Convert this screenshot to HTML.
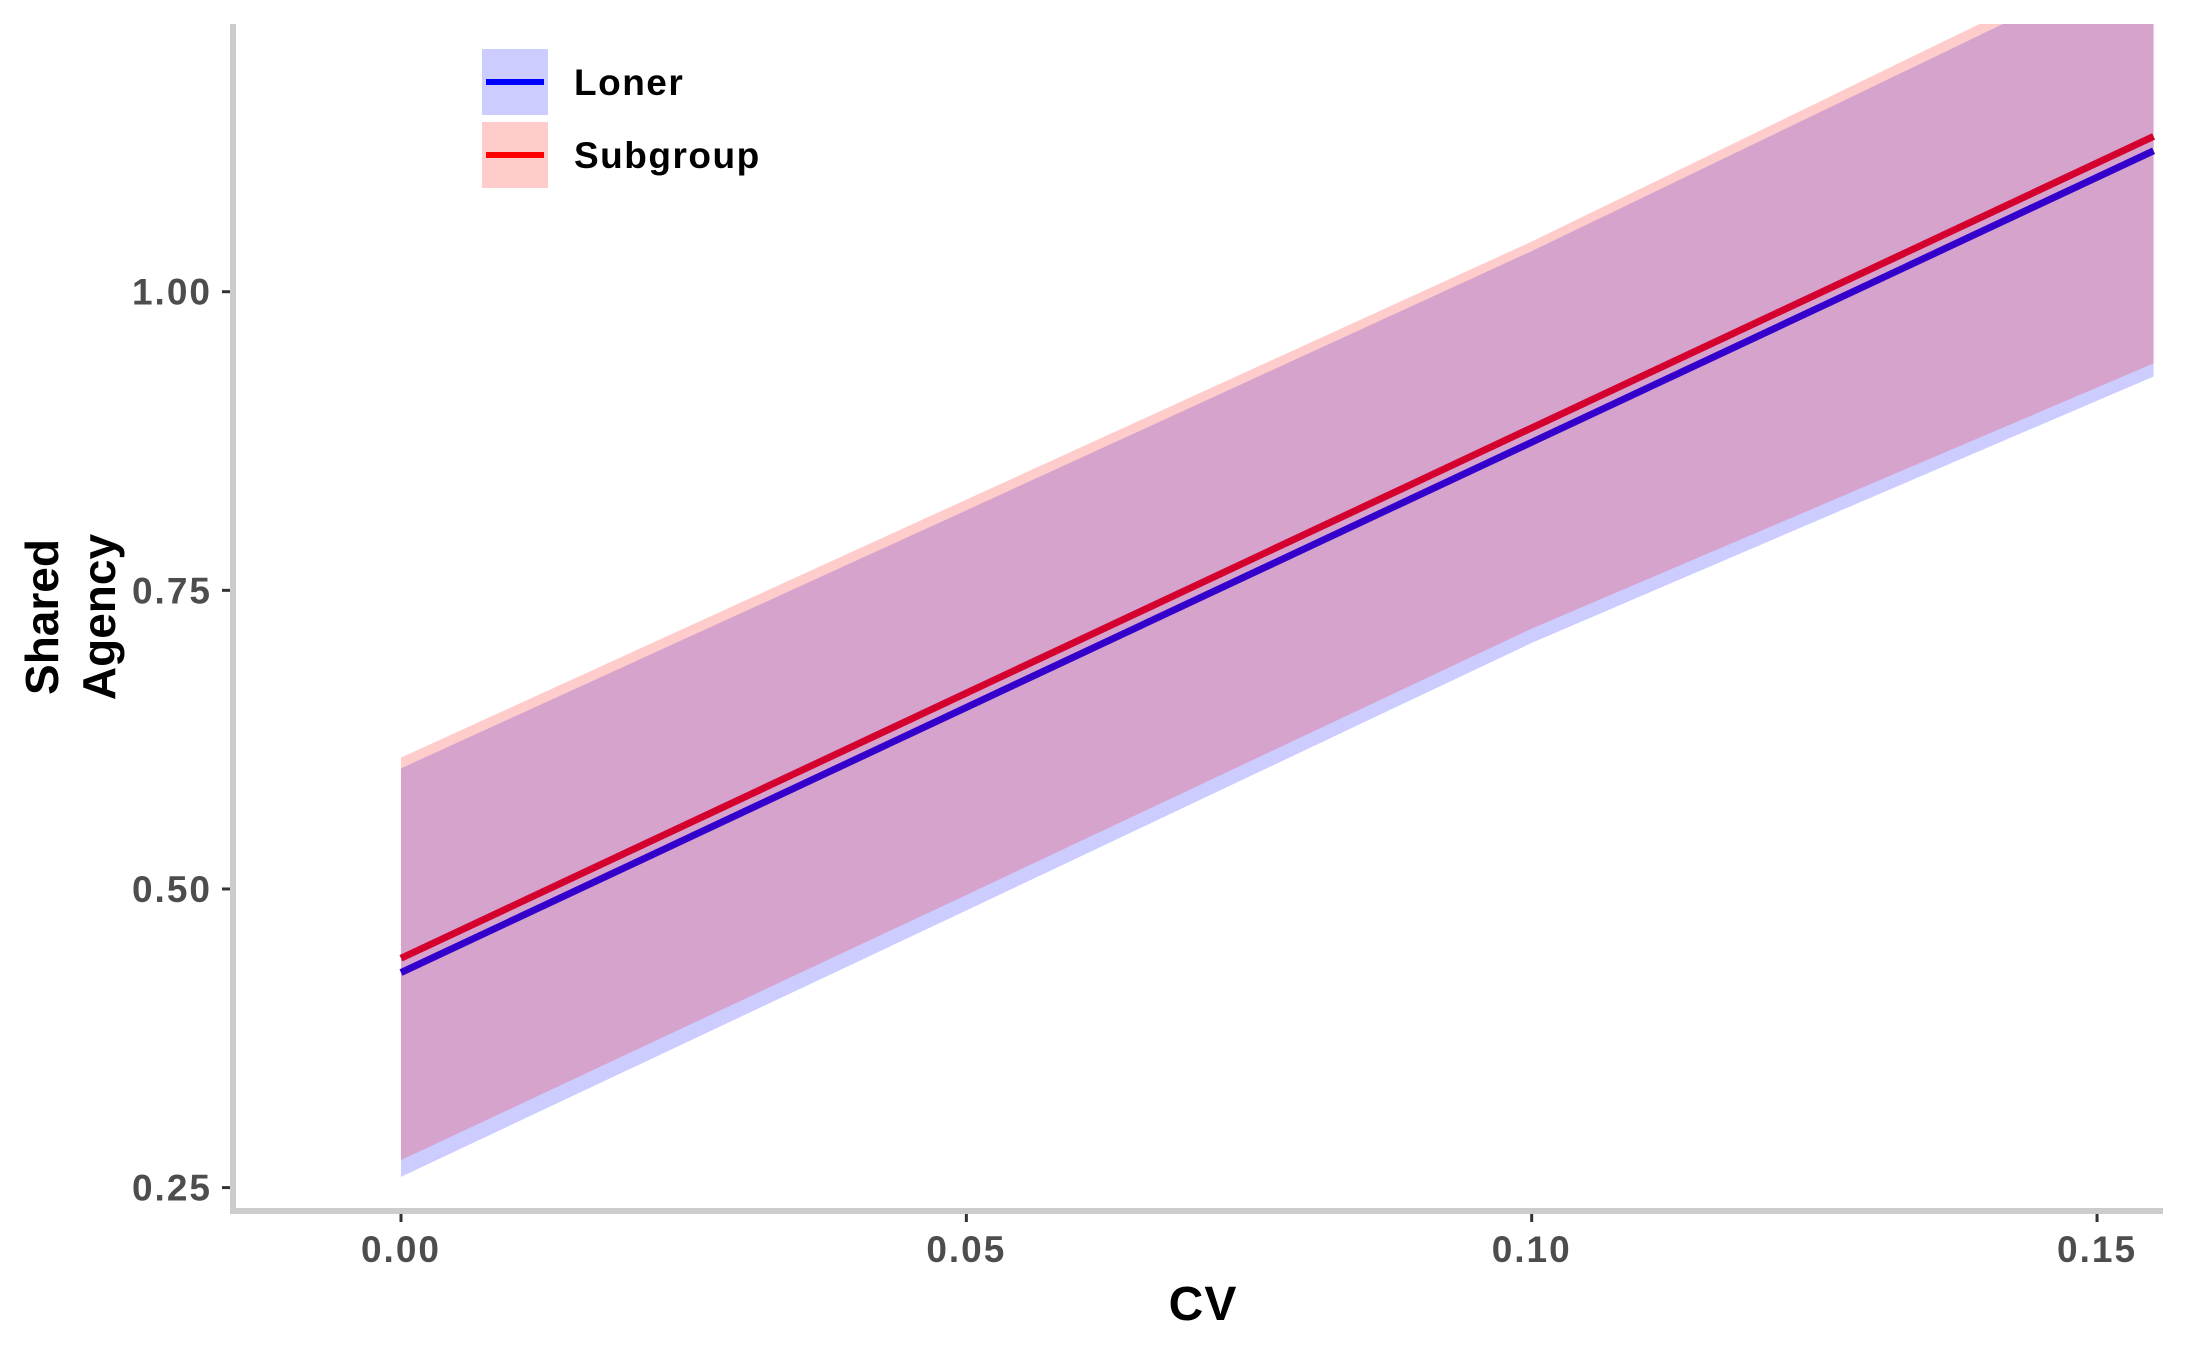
<!DOCTYPE html>
<html><head><meta charset="utf-8"><style>
html,body{margin:0;padding:0;background:#fff;}
svg{display:block;}
text{font-family:"Liberation Sans",Arial,sans-serif;font-weight:bold;}
</style></head><body>
<svg id="chart" width="2187" height="1350" viewBox="0 0 2187 1350">
<defs><clipPath id="clip"><rect x="236" y="24" width="1927" height="1184"/></clipPath></defs>
<g id="bands" clip-path="url(#clip)"></g>
<g id="lines" clip-path="url(#clip)"></g>
<g id="axes"></g>
<g>
<text x="58" y="617" font-size="46" text-anchor="middle" transform="rotate(-90 58 617)" fill="#000">Shared</text>
<text x="115" y="617" font-size="46" text-anchor="middle" transform="rotate(-90 115 617)" fill="#000">Agency</text>
</g>
<text x="1203" y="1320" font-size="48" text-anchor="middle" letter-spacing="1" fill="#000">CV</text>
<g>
<g>
<rect x="482" y="49" width="66" height="66" fill="#ccccff"/>
<line x1="486" y1="82" x2="544" y2="82" stroke="#0000ff" stroke-width="6"/>
<text x="574" y="95" font-size="37" letter-spacing="1.5" fill="#000">Loner</text>
</g>
<g>
<rect x="482" y="122" width="66" height="66" fill="#ffcccc"/>
<line x1="486" y1="155" x2="544" y2="155" stroke="#ff0000" stroke-width="6"/>
<text x="574" y="168" font-size="37" letter-spacing="1.5" fill="#000">Subgroup</text>
</g>
</g>
</svg>
<script>
const cvValues = [0, 0.05, 0.10, 0.155];
const lonerFit = [0.430, 0.652, 0.874, 1.118];
const lonerUpper = [0.601, 0.817, 1.034, 1.285];
const lonerLower = [0.259, 0.482, 0.706, 0.929];
const subgroupFit = [0.442, 0.664, 0.886, 1.130];
const subgroupUpper = [0.610, 0.826, 1.042, 1.295];
const subgroupLower = [0.273, 0.495, 0.718, 0.940];
const xTicks = [0, 0.05, 0.10, 0.15];
const xTickLabels = ["0.00", "0.05", "0.10", "0.15"];
const yTicks = [0.25, 0.50, 0.75, 1.00];
const yTickLabels = ["0.25", "0.50", "0.75", "1.00"];

const NS = "http://www.w3.org/2000/svg";
function xs(v){ return 401 + v * 11307; }
function ys(v){ return 1187.6 - (v - 0.25) * 1194.5; }
function mk(tag, attrs, parent){
  const e = document.createElementNS(NS, tag);
  for (const k in attrs) e.setAttribute(k, attrs[k]);
  parent.appendChild(e);
  return e;
}
const bands = document.getElementById('bands');
const lines = document.getElementById('lines');
const axes = document.getElementById('axes');

function bandPath(up, lo){
  let d = "";
  cvValues.forEach((c,i)=>{ d += (i ? "L" : "M") + xs(c) + "," + ys(up[i]); });
  for (let i = cvValues.length-1; i >= 0; i--) d += "L" + xs(cvValues[i]) + "," + ys(lo[i]);
  return d + "Z";
}
function linePts(arr){ return cvValues.map((c,i)=>xs(c)+","+ys(arr[i])).join(" "); }

const b1 = mk('path', {d: bandPath(lonerUpper, lonerLower), fill: '#0000ff', 'fill-opacity': 0.2}, bands);


const b2 = mk('path', {d: bandPath(subgroupUpper, subgroupLower), fill: '#ff0000', 'fill-opacity': 0.2}, bands);


const l1 = mk('polyline', {points: linePts(lonerFit), fill: 'none', stroke: '#3300cc', 'stroke-width': 7}, lines);


const l2 = mk('polyline', {points: linePts(subgroupFit), fill: 'none', stroke: '#d4002e', 'stroke-width': 7}, lines);



const ya = mk('line', {x1: 233, y1: 24, x2: 233, y2: 1214, stroke: '#cccccc', 'stroke-width': 6}, axes);


const xa = mk('line', {x1: 230, y1: 1211, x2: 2163, y2: 1211, stroke: '#cccccc', 'stroke-width': 6}, axes);



yTicks.forEach((v,i)=>{
  const y = ys(v);
  const t = mk('line', {x1: 222, y1: y, x2: 230, y2: y, stroke: '#333', 'stroke-width': 3}, axes);
  
  
  const tx = mk('text', {x: 212, y: y + 13, 'font-size': 37, 'letter-spacing': 2, 'text-anchor': 'end', fill: '#4d4d4d'}, axes);
  tx.textContent = yTickLabels[i];
  
  
});
xTicks.forEach((v,i)=>{
  const x = xs(v);
  const t = mk('line', {x1: x, y1: 1214, x2: x, y2: 1222, stroke: '#333', 'stroke-width': 3}, axes);
  
  
  const tx = mk('text', {x: x, y: 1262, 'font-size': 37, 'letter-spacing': 2, 'text-anchor': 'middle', fill: '#4d4d4d'}, axes);
  tx.textContent = xTickLabels[i];
  
  
});
</script>
</body></html>
